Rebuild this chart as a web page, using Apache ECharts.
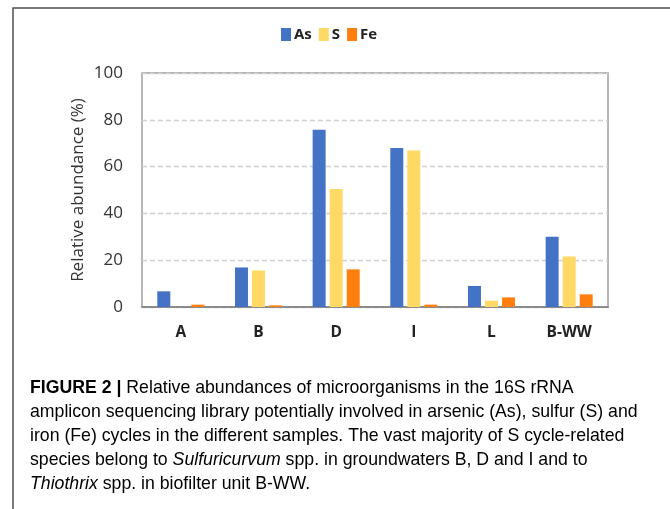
<!DOCTYPE html>
<html>
<head>
<meta charset="utf-8">
<script src="https://cdn.jsdelivr.net/npm/echarts@6/dist/echarts.min.js"></script>
<style>
  html, body { margin: 0; padding: 0; background: #fff; }
  #chart { width: 670px; height: 509px; }
</style>
</head>
<body>
<div id="chart"></div>
<script>
var samples = ['A', 'B', 'D', 'I', 'L', 'B-WW'];
var asValues = [6.7, 16.9, 75.7, 67.9, 9.0, 30.0];
var sValues = [0, 15.6, 50.4, 66.9, 2.7, 21.6];
var feValues = [1.0, 0.7, 16.1, 1.0, 4.1, 5.4];
var yTicks = [0, 20, 40, 60, 80, 100];

window.onload = function() {
    var chart = echarts.init(document.getElementById('chart'));
    var capFont = '"Liberation Sans", Arial, sans-serif';
    var capSize = 17.7;
    var rich = {
        b: { fontFamily: capFont, fontSize: capSize, fontWeight: 'bold', color: '#333' },
        i: { fontFamily: capFont, fontSize: capSize, fontStyle: 'italic', color: '#3a3a3a' },
        n: { fontFamily: capFont, fontSize: capSize, color: '#3a3a3a' }
    };
    var captionLines = [
        '{b|FIGURE 2 |}{n| Relative abundances of microorganisms in the 16S rRNA}',
        '{n|amplicon sequencing library potentially involved in arsenic (As), sulfur (S) and}',
        '{n|iron (Fe) cycles in the different samples. The vast majority of S cycle-related}',
        '{n|species belong to }{i|Sulfuricurvum}{n| spp. in groundwaters B, D and I and to}',
        '{i|Thiothrix}{n| spp. in biofilter unit B-WW.}'
    ];
    var graphics = [{
        type: 'rect',
        shape: { x: 13, y: 8, width: 720, height: 600 },
        style: { fill: 'none', stroke: '#505050', lineWidth: 1.5 }
    }];
    captionLines.forEach(function(line, i) {
        graphics.push({
            type: 'text',
            left: 30,
            top: 379 + i * 24,
            style: { text: line, rich: rich, font: capSize + 'px ' + capFont }
        });
    });

    chart.setOption({
        animation: false,
        legend: {
            left: 276,
            top: 22,
            itemWidth: 10,
            itemHeight: 13,
            itemGap: 7,
            icon: 'rect',
            textStyle: { fontFamily: '"Open Sans", sans-serif', fontWeight: 'bold', fontSize: 15, color: '#222', padding: [0, 0, 0, -2] },
            data: ['As', 'S', 'Fe']
        },
        grid: {
            left: 142, right: 62, top: 73, bottom: 202,
            show: true,
            borderColor: '#a0a0a0',
            borderWidth: 1.5
        },
        xAxis: {
            type: 'category',
            data: samples,
            axisTick: { show: false },
            axisLine: { lineStyle: { color: '#8c8c8c', width: 2 } },
            axisLabel: {
                margin: 18,
                fontFamily: '"Open Sans", sans-serif',
                fontWeight: 'bold',
                fontSize: 15.5,
                color: '#222'
            }
        },
        yAxis: {
            type: 'value',
            min: yTicks[0],
            max: yTicks[yTicks.length - 1],
            interval: 20,
            name: 'Relative abundance (%)',
            nameLocation: 'middle',
            nameRotate: 90,
            nameGap: 55,
            nameMoveOverlap: false,
            nameTextStyle: { fontFamily: '"Open Sans", sans-serif', fontSize: 17, color: '#333' },
            axisLine: { show: false },
            axisTick: { show: false },
            axisLabel: {
                margin: 19,
                fontFamily: '"Open Sans", sans-serif',
                fontSize: 17,
                color: '#333'
            },
            splitLine: { lineStyle: { type: [5, 3], color: '#d0d0d0', width: 1.3 } }
        },
        series: [
            { name: 'As', type: 'bar', data: asValues, barWidth: 13, barGap: '31%', itemStyle: { color: '#4472C4' } },
            { name: 'S', type: 'bar', data: sValues, barWidth: 13, barGap: '31%', itemStyle: { color: '#FFD966' } },
            { name: 'Fe', type: 'bar', data: feValues, barWidth: 13, barGap: '31%', itemStyle: { color: '#FF7F0E' } }
        ],
        graphic: graphics
    });
};
</script>
</body>
</html>
